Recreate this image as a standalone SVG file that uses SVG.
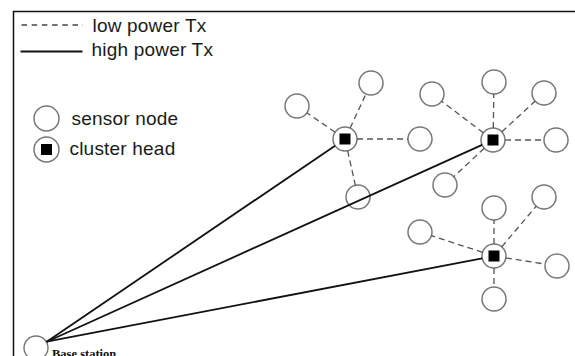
<svg xmlns="http://www.w3.org/2000/svg" width="575" height="356" viewBox="0 0 575 356">
  <style>
    .frame { stroke: #111; stroke-width: 1.5; fill: none; }
    .node { fill: #fff; stroke: #777; stroke-width: 1.5; }
    .head { fill: #000; }
    .low { stroke: #555; stroke-width: 1.3; stroke-dasharray: 6 4; fill: none; }
    .high { stroke: #111; stroke-width: 1.8; fill: none; }
    .lbl { font-family: "Liberation Sans", Arial, sans-serif; font-size: 19px; letter-spacing: 0.2px; fill: #1a1a1a; }
    .bs { font-family: "Liberation Serif", "Times New Roman", serif; font-size: 12.5px; font-weight: bold; fill: #111; }
  </style>
  <rect width="575" height="356" fill="#fff"/>
  <path class="frame" d="M13.5,356 V11.5 H575"/>

  <g id="legend">
    <line x1="21.5" y1="25" x2="83" y2="25" stroke="#444" stroke-width="1.3" stroke-dasharray="5.5 4.7"/>
    <text class="lbl" x="92.5" y="31.5">low power Tx</text>
    <line x1="20.5" y1="51.5" x2="82.5" y2="51.5" stroke="#111" stroke-width="1.8"/>
    <text class="lbl" x="91.5" y="55.5">high power Tx</text>
    <circle class="node" cx="46.5" cy="118.5" r="12.5"/>
    <text class="lbl" x="71.5" y="125">sensor node</text>
    <circle class="node" cx="46.5" cy="149.5" r="12.5"/>
    <rect class="head" x="41" y="144" width="11" height="11"/>
    <text class="lbl" x="69.5" y="155">cluster head</text>
  </g>

  <g id="base-station">
    <circle class="node" cx="36" cy="348" r="12"/>
    <text class="bs" x="52" y="358">Base station</text>
  </g>

  <g id="cluster1">
    <g id="ch1"><circle class="node" cx="345" cy="139" r="12"/><rect class="head" x="339.5" y="133.5" width="11" height="11"/></g>
    <g id="n1a"><circle class="node" cx="371" cy="83" r="12"/></g>
    <g id="n1b"><circle class="node" cx="297" cy="106" r="12"/></g>
    <g id="n1c"><circle class="node" cx="420" cy="139" r="12"/></g>
    <g id="n1d"><circle class="node" cx="358" cy="197" r="12"/></g>
  </g>

  <g id="cluster2">
    <g id="ch2"><circle class="node" cx="493" cy="140" r="12"/><rect class="head" x="487.5" y="134.5" width="11" height="11"/></g>
    <g id="n2a"><circle class="node" cx="494" cy="82" r="12"/></g>
    <g id="n2b"><circle class="node" cx="432" cy="94" r="12"/></g>
    <g id="n2c"><circle class="node" cx="544" cy="93" r="12"/></g>
    <g id="n2d"><circle class="node" cx="556" cy="140" r="12"/></g>
    <g id="n2e"><circle class="node" cx="445" cy="185" r="12"/></g>
  </g>

  <g id="cluster3">
    <g id="ch3"><circle class="node" cx="494" cy="256" r="12"/><rect class="head" x="488.5" y="250.5" width="11" height="11"/></g>
    <g id="n3a"><circle class="node" cx="494" cy="208" r="12"/></g>
    <g id="n3b"><circle class="node" cx="544" cy="197" r="12"/></g>
    <g id="n3c"><circle class="node" cx="420" cy="232" r="12"/></g>
    <g id="n3d"><circle class="node" cx="557" cy="266" r="12"/></g>
    <g id="n3e"><circle class="node" cx="494" cy="299" r="12"/></g>
  </g>

  <g id="connectors">
    <line class="low" x1="350.1" y1="128.1" x2="366" y2="93.9"/>
    <line class="low" x1="335.1" y1="132.2" x2="306.9" y2="112.8"/>
    <line class="low" x1="357" y1="139" x2="408" y2="139"/>
    <line class="low" x1="347.6" y1="150.7" x2="355.4" y2="185.3"/>

    <line class="low" x1="493.3" y1="128" x2="493.8" y2="94"/>
    <line class="low" x1="483.4" y1="132.8" x2="441.6" y2="101.2"/>
    <line class="low" x1="501.8" y1="131.9" x2="535.2" y2="101.1"/>
    <line class="low" x1="505" y1="140" x2="544" y2="140"/>
    <line class="low" x1="484.3" y1="148.2" x2="453.7" y2="176.8"/>

    <line class="low" x1="494" y1="244" x2="494" y2="220"/>
    <line class="low" x1="501.8" y1="246.8" x2="536.2" y2="206.2"/>
    <line class="low" x1="482.6" y1="252.3" x2="431.4" y2="235.7"/>
    <line class="low" x1="505.8" y1="257.9" x2="545.2" y2="264.1"/>
    <line class="low" x1="494" y1="268" x2="494" y2="287"/>

    <line class="high" x1="46.7" y1="341.7" x2="335.1" y2="145.7"/>
    <line class="high" x1="46.7" y1="341.7" x2="482.1" y2="144.9"/>
    <line class="high" x1="46.7" y1="341.7" x2="482.2" y2="258.3"/>
  </g>
</svg>
